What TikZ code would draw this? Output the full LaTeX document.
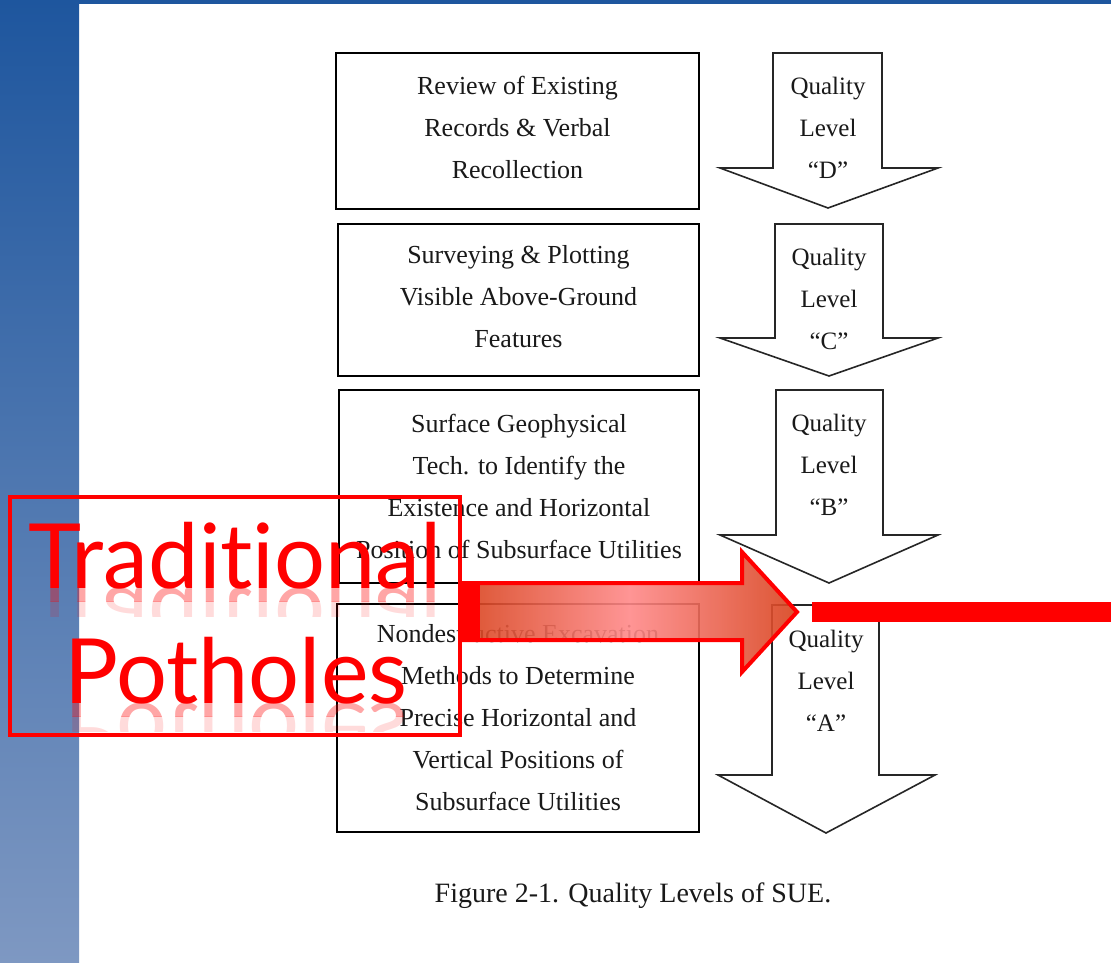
\documentclass[tikz,border=0pt]{standalone}
\usepackage{fontspec}
\setmainfont{Liberation Serif}
\newfontfamily\titlefont[Ligatures={NoCommon,NoRare,NoDiscretionary}]{Lato}
\usetikzlibrary{positioning}

\definecolor{slideblue}{HTML}{1E569E}
\definecolor{slidelight}{HTML}{7E98C2}
\definecolor{pfeilhell}{HTML}{FF8A8A}
\definecolor{pfeildunkel}{HTML}{D8421C}

\tikzset{
  levelbox/.style={rectangle, draw=black, line width=2.6pt, text=black!90, align=center,
    font=\fontsize{26}{42}\selectfont},
  levelarrow/.style={draw=black!85, line width=1.6pt, fill=white, line join=miter},
  leveltext/.style={text=black!90, align=center, font=\fontsize{25}{42}\selectfont},
  titeltext/.style={text=red, font=\titlefont\fontsize{90}{90}\selectfont, inner sep=0pt}
}

\begin{document}
\begin{tikzpicture}[x=1pt, y=-1pt]
  \useasboundingbox (0,0) rectangle (1111,963);
  % Hintergrund
  \fill[white] (0,0) rectangle (1111,963);
  \shade[top color=slideblue, bottom color=slidelight] (0,0) rectangle (79,963);
  \fill[slideblue] (0,0) rectangle (1111,4);

  % Boxen
  \node [levelbox, minimum width=363pt, minimum height=156pt, text depth=8pt] (box1) at (517.5,131)
    {Review of Existing\\Records \& Verbal\\Recollection};
  \node [levelbox, minimum width=361pt, minimum height=152pt, text depth=8pt] (box2) at (518.5,300)
    {Surveying \& Plotting\\Visible Above-Ground\\Features};
  \node [levelbox, minimum width=360pt, minimum height=193pt] (box3) at (519,486.5)
    {Surface Geophysical\\Tech. to Identify the\\Existence and Horizontal\\Position of Subsurface Utilities};
  \node [levelbox, minimum width=362pt, minimum height=228pt] (box4) at (518,718)
    {Nondestructive Excavation\\Methods to Determine\\Precise Horizontal and\\Vertical Positions of\\Subsurface Utilities};

  % Pfeile Quality Level
  \draw[levelarrow] (773,53) -- (882,53) -- (882,168) -- (938,168) -- (828,208)
    -- (720,168) -- (773,168) -- cycle;
  \draw[levelarrow] (775,224) -- (883,224) -- (883,338) -- (938,338) -- (829,376)
    -- (720,338) -- (775,338) -- cycle;
  \draw[levelarrow] (776,390) -- (883,390) -- (883,535) -- (938,535) -- (829,583)
    -- (720,535) -- (776,535) -- cycle;
  \draw[levelarrow] (772,605) -- (879,605) -- (879,775) -- (935,775) -- (826,833)
    -- (718,775) -- (772,775) -- cycle;
  \node [leveltext] (qlD) at (828,128) {Quality\\Level\\``D''};
  \node [leveltext] (qlC) at (829,299) {Quality\\Level\\``C''};
  \node [leveltext] (qlB) at (829,465) {Quality\\Level\\``B''};
  \node [leveltext] (qlA) at (826,681) {Quality\\Level\\``A''};

  % Bildunterschrift
  \node [font=\fontsize{28}{32}\selectfont, text=black!90, anchor=base] (caption) at (633,902)
    {Figure 2-1. Quality Levels of SUE.};

  % Rote Markierung
  \draw[red, line width=4pt] (10,497) rectangle (460,735);
  \node [titeltext, anchor=base] (trad) at (235,588) {Traditional};
  \node [titeltext, anchor=base] (poth) at (236,703) {Potholes};
  \begin{scope}
    \clip (12,588) rectangle (458,601);
    \node [titeltext, anchor=base, yscale=-1, transform shape, opacity=0.35] at (235,588) {Traditional};
  \end{scope}
  \begin{scope}
    \clip (12,601) rectangle (458,616);
    \node [titeltext, anchor=base, yscale=-1, transform shape, opacity=0.14] at (235,588) {Traditional};
  \end{scope}
  \begin{scope}
    \clip (12,703) rectangle (458,716);
    \node [titeltext, anchor=base, yscale=-1, transform shape, opacity=0.35] at (236,703) {Potholes};
  \end{scope}
  \begin{scope}
    \clip (12,716) rectangle (458,731);
    \node [titeltext, anchor=base, yscale=-1, transform shape, opacity=0.14] at (236,703) {Potholes};
  \end{scope}

  % Roter Pfeil
  \coordinate (pstart) at (462,612);
  \coordinate (pspitze) at (797,612);
  \draw[red, line width=4pt, fill opacity=0.9, left color=pfeildunkel, right color=pfeildunkel,
    middle color=pfeilhell, line join=miter]
    (462,583) -- (742,583) -- (742,552) -- (pspitze) -- (742,672) -- (742,640)
    -- (462,640) -- cycle;
  \fill[red] (462,585) rectangle (480,638);
  \coordinate (linie1) at (812,612);
  \coordinate (linie2) at (1111,612);
  \draw[red, line width=20pt] (linie1) -- (linie2);
\end{tikzpicture}
\end{document}
